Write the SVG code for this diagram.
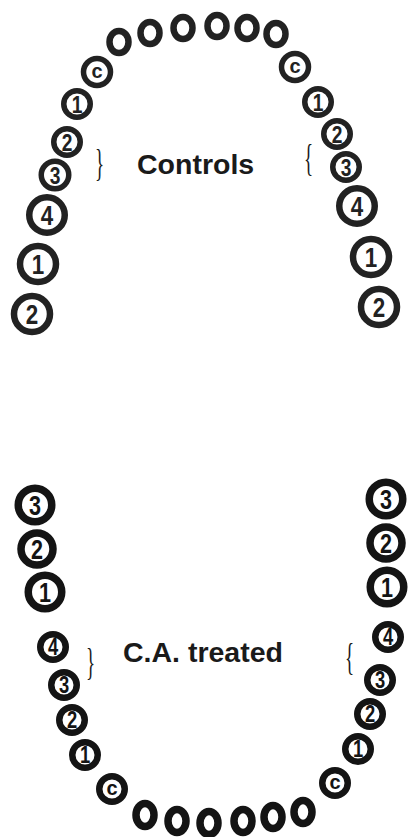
<svg xmlns="http://www.w3.org/2000/svg" width="409" height="837" viewBox="0 0 409 837">
<style>
.ringT{fill:none;stroke:#222;stroke-width:5.5}
.ringTL{fill:none;stroke:#222;stroke-width:6.5}
.ringB{fill:none;stroke:#141414;stroke-width:7.5}
.ringBS{fill:none;stroke:#141414;stroke-width:6.5}
.ovT{fill:none;stroke:#222;stroke-width:6.5}
.ovB{fill:none;stroke:#141414;stroke-width:7.5}
.dT{font-family:"Liberation Sans",Arial,sans-serif;font-weight:bold;fill:#222;text-anchor:middle}
.dB{font-family:"Liberation Sans",Arial,sans-serif;font-weight:bold;fill:#141414;text-anchor:middle}
.s{font-size:24px}
.l{font-size:28px}
.lb{font-size:27px}
.bs{font-size:23px}
.c{font-size:20px}
.lab{font-family:"Liberation Sans",Arial,sans-serif;font-weight:bold;font-size:28.5px;fill:#1a1a1a}
.br{font-family:"Liberation Serif",serif;font-size:38px;fill:#1a1a1a}
</style>
<rect width="409" height="837" fill="#fff"/>

<!-- Upper arch (Controls) -->
<g id="upper-incisors">
<ellipse class="ovT" cx="119" cy="42" rx="9.5" ry="11"/>
<ellipse class="ovT" cx="150" cy="33" rx="9.5" ry="11"/>
<ellipse class="ovT" cx="183" cy="28" rx="9.5" ry="11"/>
<ellipse class="ovT" cx="217" cy="26" rx="9.5" ry="11"/>
<ellipse class="ovT" cx="247" cy="28" rx="9.5" ry="11"/>
<ellipse class="ovT" cx="276" cy="34" rx="9.5" ry="11"/>
</g>
<g id="upper-left-c"><circle class="ringT" cx="97" cy="72" r="13.5"/><text class="dT c" transform="translate(97,72)" y="5.5">c</text></g>
<g id="upper-right-c"><circle class="ringT" cx="295" cy="67" r="13.5"/><text class="dT c" transform="translate(295,67)" y="5.5">c</text></g>
<g id="upper-left-1a"><circle class="ringT" cx="77" cy="104" r="13.25"/><text class="dT s" transform="translate(77,104) scale(0.8,1)" y="8.6">1</text></g>
<g id="upper-left-2a"><circle class="ringT" cx="67" cy="142" r="13.25"/><text class="dT s" transform="translate(67,142) scale(0.8,1)" y="8.6">2</text></g>
<g id="upper-left-3"><circle class="ringT" cx="55" cy="175" r="13.75"/><text class="dT s" transform="translate(55,175) scale(0.8,1)" y="8.6">3</text></g>
<g id="upper-left-4"><circle class="ringTL" cx="47" cy="215" r="17.75"/><text class="dT l" transform="translate(47,215) scale(0.8,1)" y="10">4</text></g>
<g id="upper-left-1b"><circle class="ringTL" cx="38" cy="264" r="18"/><text class="dT l" transform="translate(38,264) scale(0.8,1)" y="10">1</text></g>
<g id="upper-left-2b"><circle class="ringTL" cx="32" cy="314" r="18"/><text class="dT l" transform="translate(32,314) scale(0.8,1)" y="10">2</text></g>

<g id="upper-right-1a"><circle class="ringT" cx="318" cy="102" r="13.25"/><text class="dT s" transform="translate(318,102) scale(0.8,1)" y="8.6">1</text></g>
<g id="upper-right-2a"><circle class="ringT" cx="337" cy="134" r="13.25"/><text class="dT s" transform="translate(337,134) scale(0.8,1)" y="8.6">2</text></g>
<g id="upper-right-3"><circle class="ringT" cx="346" cy="167" r="13.25"/><text class="dT s" transform="translate(346,167) scale(0.8,1)" y="8.6">3</text></g>
<g id="upper-right-4"><circle class="ringTL" cx="357" cy="206" r="17.75"/><text class="dT l" transform="translate(357,206) scale(0.8,1)" y="10">4</text></g>
<g id="upper-right-1b"><circle class="ringTL" cx="371" cy="257" r="18"/><text class="dT l" transform="translate(371,257) scale(0.8,1)" y="10">1</text></g>
<g id="upper-right-2b"><circle class="ringTL" cx="379" cy="307" r="18"/><text class="dT l" transform="translate(379,307) scale(0.8,1)" y="10">2</text></g>

<g id="controls-label">
<text class="br" transform="translate(95,176) scale(0.5,1)">}</text>
<text class="lab" x="137" y="174">Controls</text>
<text class="br" transform="translate(304,171) scale(0.5,1)">{</text>
</g>

<!-- Lower arch (C.A. treated) -->
<g id="lower-left-3a"><circle class="ringB" cx="35" cy="505" r="16.75"/><text class="dB lb" transform="translate(35,505) scale(0.8,1)" y="9.7">3</text></g>
<g id="lower-left-2a"><circle class="ringB" cx="37" cy="549" r="16"/><text class="dB lb" transform="translate(37,549) scale(0.8,1)" y="9.7">2</text></g>
<g id="lower-left-1a"><circle class="ringB" cx="45" cy="592" r="16.75"/><text class="dB lb" transform="translate(45,592) scale(0.8,1)" y="9.7">1</text></g>
<g id="lower-left-4"><circle class="ringBS" cx="53" cy="647" r="12.75"/><text class="dB bs" transform="translate(53,647) scale(0.8,1)" y="8.2">4</text></g>
<g id="lower-left-3b"><circle class="ringBS" cx="64" cy="685" r="12.75"/><text class="dB bs" transform="translate(64,685) scale(0.8,1)" y="8.2">3</text></g>
<g id="lower-left-2b"><circle class="ringBS" cx="72" cy="720" r="12.75"/><text class="dB bs" transform="translate(72,720) scale(0.8,1)" y="8.2">2</text></g>
<g id="lower-left-1b"><circle class="ringBS" cx="85" cy="755" r="12.75"/><text class="dB bs" transform="translate(85,755) scale(0.8,1)" y="8.2">1</text></g>
<g id="lower-left-c"><circle class="ringBS" cx="112" cy="789" r="12.75"/><text class="dB c" transform="translate(112,789)" y="5.5">c</text></g>

<g id="lower-right-3a"><circle class="ringB" cx="386" cy="499" r="16.75"/><text class="dB lb" transform="translate(386,499) scale(0.8,1)" y="9.7">3</text></g>
<g id="lower-right-2a"><circle class="ringB" cx="386" cy="543" r="16"/><text class="dB lb" transform="translate(386,543) scale(0.8,1)" y="9.7">2</text></g>
<g id="lower-right-1a"><circle class="ringB" cx="387" cy="587" r="16.75"/><text class="dB lb" transform="translate(387,587) scale(0.8,1)" y="9.7">1</text></g>
<g id="lower-right-4"><circle class="ringBS" cx="388" cy="637" r="12.75"/><text class="dB bs" transform="translate(388,637) scale(0.8,1)" y="8.2">4</text></g>
<g id="lower-right-3b"><circle class="ringBS" cx="380" cy="680" r="12.75"/><text class="dB bs" transform="translate(380,680) scale(0.8,1)" y="8.2">3</text></g>
<g id="lower-right-2b"><circle class="ringBS" cx="370" cy="714" r="12.75"/><text class="dB bs" transform="translate(370,714) scale(0.8,1)" y="8.2">2</text></g>
<g id="lower-right-1b"><circle class="ringBS" cx="358" cy="749" r="12.75"/><text class="dB bs" transform="translate(358,749) scale(0.8,1)" y="8.2">1</text></g>
<g id="lower-right-c"><circle class="ringBS" cx="335" cy="783" r="12.75"/><text class="dB c" transform="translate(335,783)" y="5.5">c</text></g>

<g id="lower-incisors">
<ellipse class="ovB" cx="145" cy="815" rx="9" ry="11.5"/>
<ellipse class="ovB" cx="177" cy="821" rx="9" ry="11.5"/>
<ellipse class="ovB" cx="209" cy="823" rx="9" ry="11.5"/>
<ellipse class="ovB" cx="243" cy="821" rx="9" ry="11.5"/>
<ellipse class="ovB" cx="273" cy="817" rx="9" ry="11.5"/>
<ellipse class="ovB" cx="303" cy="812" rx="9" ry="11.5"/>
</g>

<g id="treated-label">
<text class="br" transform="translate(86,675) scale(0.5,1)">}</text>
<text class="lab" x="123" y="662">C.A. treated</text>
<text class="br" transform="translate(345,670) scale(0.5,1)">{</text>
</g>
</svg>
